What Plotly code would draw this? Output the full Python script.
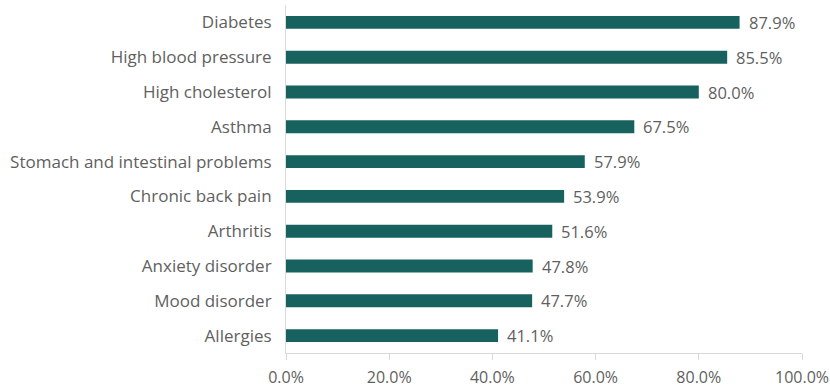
import plotly.graph_objects as go

conditions = [
    "Diabetes",
    "High blood pressure",
    "High cholesterol",
    "Asthma",
    "Stomach and intestinal problems",
    "Chronic back pain",
    "Arthritis",
    "Anxiety disorder",
    "Mood disorder",
    "Allergies",
]
shares = [87.9, 85.5, 80.0, 67.5, 57.9, 53.9, 51.6, 47.8, 47.7, 41.1]
x_ticks = [0, 20, 40, 60, 80, 100]
x_tick_labels = ["0.0%", "20.0%", "40.0%", "60.0%", "80.0%", "100.0%"]

BAR = "#17625f"
TEXT = "#5f5f5f"
AXIS = "#d9d9d9"
FONT = "Open Sans"

fig = go.Figure(
    go.Bar(
        x=shares,
        y=conditions,
        orientation="h",
        marker=dict(color=BAR, line=dict(width=0)),
        hoverinfo="skip",
    )
)

for c, v in zip(conditions, shares):
    fig.add_annotation(
        x=v, y=c, text=f"{v:.1f}%", showarrow=False,
        xanchor="left", xshift=7,
        font=dict(family=FONT, size=16.5, color=TEXT),
    )

fig.update_layout(
    width=830, height=388,
    margin=dict(l=286, r=28, t=5, b=35),
    paper_bgcolor="white", plot_bgcolor="white",
    bargap=0.63,
    showlegend=False,
    font=dict(family=FONT, size=16, color=TEXT),
)
fig.update_xaxes(
    range=[0, 100], tickvals=x_ticks, ticktext=x_tick_labels,
    automargin=False,
    showgrid=False, zeroline=False,
    showline=True, linecolor=AXIS, linewidth=1,
    ticks="outside", ticklen=6, tickcolor=AXIS,
    ticklabelstandoff=4,
    tickfont=dict(family=FONT, size=16, color=TEXT),
)
fig.update_yaxes(
    autorange="reversed", automargin=False,
    showgrid=False, zeroline=False,
    showline=True, linecolor=AXIS, linewidth=1,
    ticks="", ticklabelstandoff=10,
    tickfont=dict(family=FONT, size=17, color=TEXT),
)

fig.write_html("out.html")
